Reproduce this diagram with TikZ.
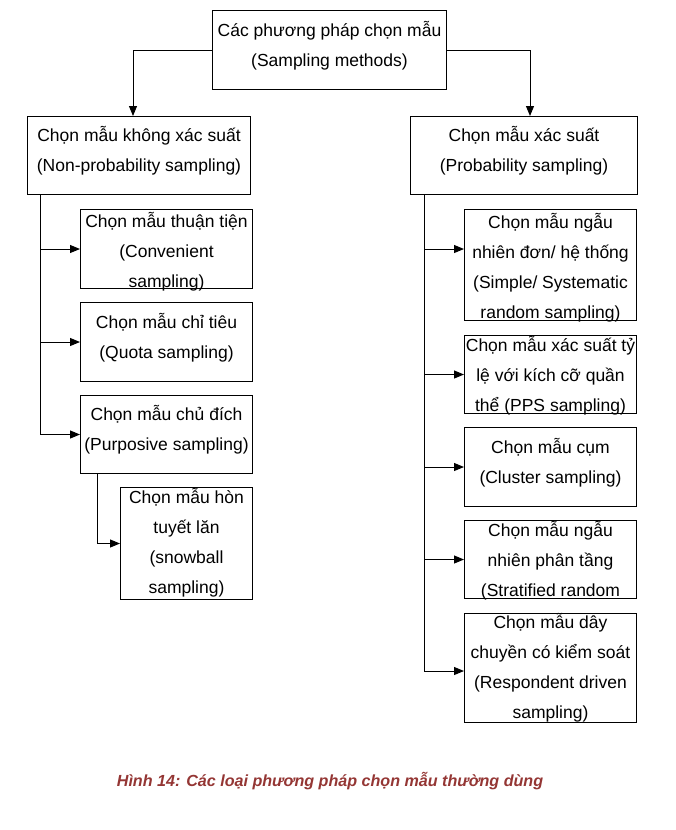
\documentclass[tikz,border=0pt]{standalone}
\usepackage{fontspec}
\setmainfont{Liberation Sans}
\usepackage{xcolor}
\definecolor{cap-red}{HTML}{943634}
\usetikzlibrary{arrows.meta}
\newcommand{\boxfont}{\fontsize{17.5}{30}\selectfont}
% text block centred in the box, shifted by the optional raise
\newcommand{\boxtext}[2][0.5pt]{\makebox[0pt]{\smash{\raisebox{#1}{\begin{tabular}{@{}c@{}}#2\end{tabular}}}}}
\tikzset{box/.style = {draw, line width=1pt, inner sep=0pt, anchor=north west, font=\boxfont}}
\tikzset{arr/.style = {line width=1pt, -{Triangle[length=10pt, width=8pt]}}}
\begin{document}
\begin{tikzpicture}[x=1pt, y=-1pt]
\useasboundingbox (0,0) rectangle (675,830);

\node[box, minimum width=234, minimum height=79] (top) at (212,10) {\boxtext{Các phương pháp chọn mẫu\\(Sampling methods)}};
\node[box, minimum width=223, minimum height=78] (np) at (27,116) {\boxtext{Chọn mẫu không xác suất\\(Non-probability sampling)}};
\node[box, minimum width=227, minimum height=78] (pr) at (410,116) {\boxtext{Chọn mẫu xác suất\\(Probability sampling)}};

% non-probability side
\node[box, minimum width=172, minimum height=79] (c1) at (80,209) {\boxtext[-7pt]{Chọn mẫu thuận tiện\\(Convenient\\sampling)}};
\node[box, minimum width=172, minimum height=79] (c2) at (80,302) {\boxtext{Chọn mẫu chỉ tiêu\\(Quota sampling)}};
\node[box, minimum width=172, minimum height=78] (c3) at (80,395) {\boxtext{Chọn mẫu chủ đích\\(Purposive sampling)}};
\node[box, minimum width=132, minimum height=112] (c4) at (120,487) {\boxtext[-3.5pt]{Chọn mẫu hòn\\tuyết lăn\\(snowball\\sampling)}};

% probability side
\node[box, minimum width=172, minimum height=111] (s1) at (464,209) {\boxtext[-7pt]{Chọn mẫu ngẫu\\nhiên đơn/ hệ thống\\(Simple/ Systematic\\random sampling)}};
\node[box, minimum width=172, minimum height=78] (s2) at (464,335) {\boxtext[-5pt]{Chọn mẫu xác suất tỷ\\lệ với kích cỡ quần\\thể (PPS sampling)}};
\node[box, minimum width=172, minimum height=79] (s3) at (464,427) {\boxtext{Chọn mẫu cụm\\(Cluster sampling)}};
\node[box, minimum width=172, minimum height=78] (s4) at (464,520) {\boxtext[-5pt]{Chọn mẫu ngẫu\\nhiên phân tầng\\(Stratified random}};
\node[box, minimum width=172, minimum height=109] (s5) at (464,613) {\boxtext[-3.5pt]{Chọn mẫu dây\\chuyền có kiểm soát\\(Respondent driven\\sampling)}};

\node[font=\bfseries\itshape\fontsize{16.1}{18}\selectfont, text=cap-red] (cap) at (330,781) {Hình 14: Các loại phương pháp chọn mẫu thường dùng};

\coordinate (lt) at ([xshift=13pt]np.south west);
\coordinate (rt) at ([xshift=14pt]pr.south west);

\draw[arr] (top.west) -| ([xshift=-6pt]np.north);
\draw[arr] (top.east) -| ([xshift=6pt]pr.north);

\draw[arr] (lt) |- (c3.west);
\foreach \n in {c1,c2}
  \draw[arr] (lt |- \n.west) -- (\n.west);
\draw[arr] ([xshift=17pt]c3.south west) |- (c4.west);

\draw[arr] (rt) |- ([yshift=-3pt]s5.west);
\draw[arr] (rt |- 0,249) -- (s1.west |- 0,249);
\foreach \n in {s2,s3,s4}
  \draw[arr] (rt |- \n.west) -- (\n.west);

\end{tikzpicture}
\end{document}
